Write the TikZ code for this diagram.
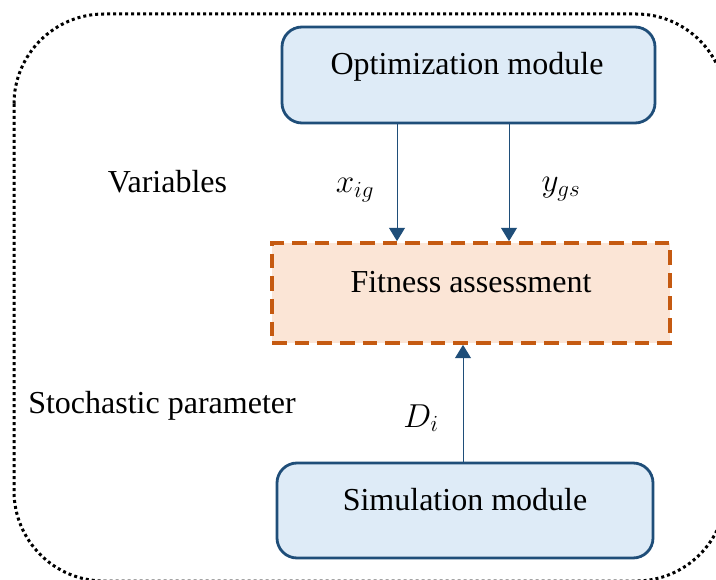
\documentclass[tikz,border=0pt]{standalone}
\usepackage{fontspec}
\setmainfont{Liberation Serif}
\usetikzlibrary{arrows.meta}

\definecolor{modfill}{HTML}{DEEBF7}
\definecolor{modline}{HTML}{1F4E79}
\definecolor{assessfill}{HTML}{FBE5D6}
\definecolor{assessline}{HTML}{C55A11}
\definecolor{flowcol}{HTML}{1F4E79}

\begin{document}
\begin{tikzpicture}[
  x=0.75pt, y=-0.75pt,
  module/.style={rectangle, draw=modline, fill=modfill, line width=2.1pt,
    rounded corners=15pt, inner sep=0pt},
  assess/.style={rectangle, draw=assessline, fill=assessfill, line width=2.8pt,
    dash pattern=on 11pt off 6pt, inner sep=0pt},
  txt/.style={inner sep=0pt, anchor=base, font=\fontsize{24}{29}\selectfont},
  mathtxt/.style={inner sep=0pt, anchor=base, font=\fontsize{25}{30}\selectfont},
  flow/.style={draw=flowcol, line width=0.75pt,
    -{Triangle[length=10pt,width=12pt]}},
  outline/.style={draw=black, line width=2.25pt,
    dash pattern=on 2.25pt off 2.25pt, rounded corners=67.5pt}
]
% page area
\fill[white] (0,0) rectangle (716,580);
\useasboundingbox (0,0) rectangle (716,580);
\clip (0,0) rectangle (716,580);

% dotted enclosure
\draw[outline] (14,14) rectangle (726,581);

% blocks
\node[module, minimum width=279.75pt, minimum height=72pt] (opt) at (468.5,75) {};
\node[assess, minimum width=298.5pt, minimum height=75pt] (fit) at (471,293) {};
\node[module, minimum width=282pt, minimum height=71.25pt] (sim) at (465,510.5) {};

\node[txt] (optlabel) at (467,75) {Optimization module};
\node[txt] (fitlabel) at (471,293) {Fitness assessment};
\node[txt] (simlabel) at (465,510) {Simulation module};

% side captions
\node[txt] (vars) at (167.5,193) {Variables};
\node[txt] (stoch) at (162,413) {Stochastic parameter};

% connectors
\coordinate (xa) at (397,0);
\coordinate (ya) at (509,0);
\coordinate (da) at (463,0);
\draw[flow] (opt.south -| xa) -- (fit.north -| xa);
\draw[flow] (opt.south -| ya) -- (fit.north -| ya);
\draw[flow] (sim.north -| da) -- (fit.south -| da);

% connector labels
\node[mathtxt] (xlab) at (355,193) {$x_{ig}$};
\node[mathtxt] (ylab) at (561,192) {$y_{gs}$};
\node[mathtxt] (dlab) at (421,427) {$D_{i}$};
\end{tikzpicture}
\end{document}
